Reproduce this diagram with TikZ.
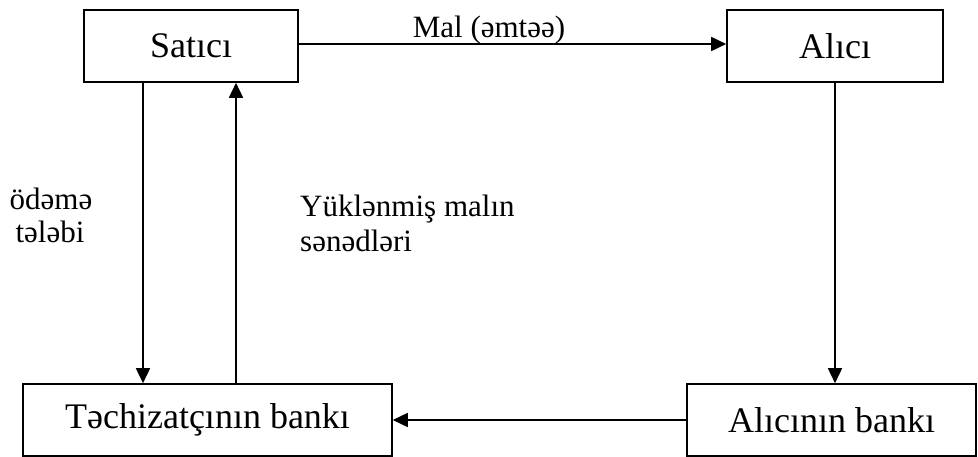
\documentclass[tikz,border=0pt]{standalone}
\usepackage{fontspec}
\setmainfont{Liberation Serif}
\usetikzlibrary{arrows.meta}
\begin{document}
\begin{tikzpicture}[x=1pt,y=-1pt,
  box/.style={draw,line width=1.6pt,inner sep=0pt,minimum height=72pt,font=\fontsize{36}{40}\selectfont},
  lbl/.style={inner sep=0pt,anchor=base,font=\fontsize{31}{35}\selectfont},
  arr/.style={line width=1.6pt,-{Triangle[length=15pt,width=14pt]}}]
\useasboundingbox (0,0) rectangle (978,457);
\node[box,minimum width=214pt] (sat) at (191,46) {Satıcı};
\node[box,minimum width=216pt] (alici) at (835,46) {Alıcı};
\node[box,minimum width=369pt] (tb) at (207.5,420) {Təchizatçının bankı};
\node[box,minimum width=289pt] (ab) at (831.5,420) {Alıcının bankı};
\draw[arr] ([yshift=2pt]sat.east) -- ([yshift=2pt]alici.west);
\node[lbl] (mal) at (489,38) {Mal (əmtəə)};
\coordinate (p1) at ([xshift=-48pt]sat.south);
\coordinate (p2) at ([xshift=45pt]sat.south);
\draw[arr] (p1) -- (p1 |- tb.north);
\draw[arr] (p2 |- tb.north) -- (p2);
\draw[arr] (alici.south) -- (alici.south |- ab.north);
\draw[arr] (ab.west) -- (tb.east);
\node[lbl] (od1) at (51,210) {ödəmə};
\node[lbl] (od2) at (50,243) {tələbi};
\node[lbl,anchor=base west] (yu1) at (300,217) {Yüklənmiş malın};
\node[lbl,anchor=base west] (yu2) at (300,252) {sənədləri};
\end{tikzpicture}
\end{document}
